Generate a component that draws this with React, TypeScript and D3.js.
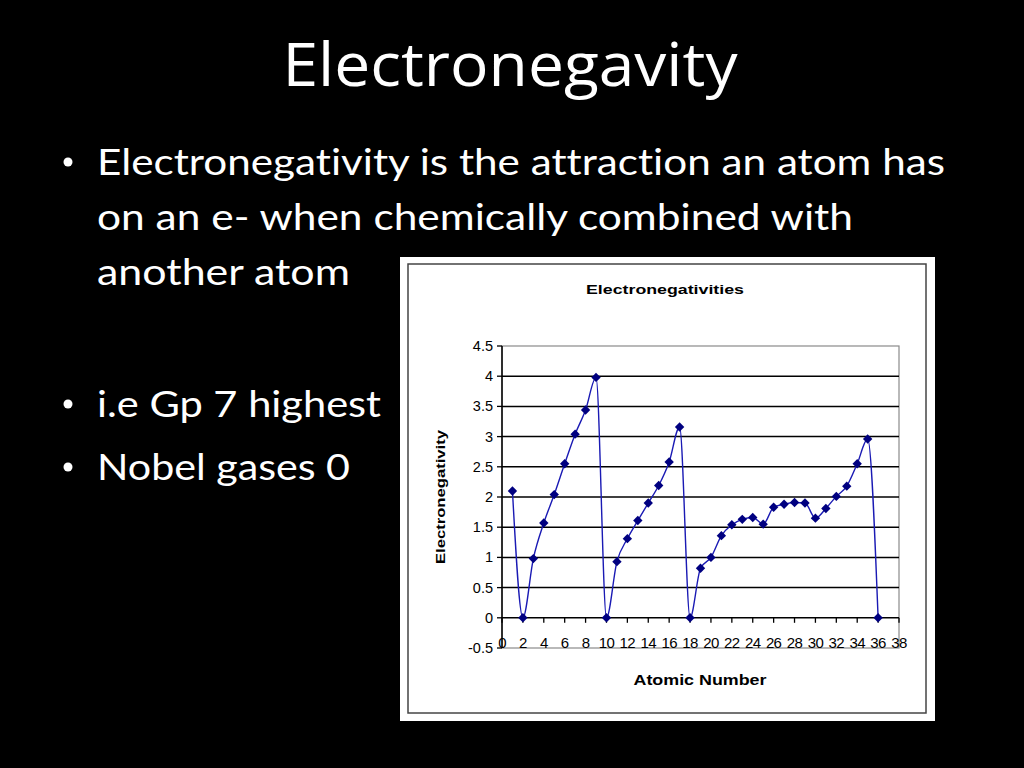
import { useEffect } from 'react';
import * as d3 from 'd3';

const atomicNumbers = [1, 2, 3, 4, 5, 6, 7, 8, 9, 10, 11, 12, 13, 14, 15, 16, 17, 18, 19, 20, 21, 22, 23, 24, 25, 26, 27, 28, 29, 30, 31, 32, 33, 34, 35, 36];
const electroneg = [2.1, 0, 0.98, 1.57, 2.04, 2.55, 3.04, 3.44, 3.98, 0, 0.93, 1.31, 1.61, 1.9, 2.19, 2.58, 3.16, 0, 0.82, 1.0, 1.36, 1.54, 1.63, 1.66, 1.55, 1.83, 1.88, 1.91, 1.9, 1.65, 1.81, 2.01, 2.18, 2.55, 2.96, 0];
const xTicks = [0, 2, 4, 6, 8, 10, 12, 14, 16, 18, 20, 22, 24, 26, 28, 30, 32, 34, 36, 38];
const yTicks = [-0.5, 0, 0.5, 1, 1.5, 2, 2.5, 3, 3.5, 4, 4.5];

const bullets = [
  { text: 'Electronegativity is the attraction an atom has', y: 175, w: 848, dot: true },
  { text: 'on an e- when chemically combined with', y: 230, w: 756, dot: false },
  { text: 'another atom', y: 285, w: 253, dot: false },
  { text: 'i.e Gp 7 highest', y: 417, w: 284, dot: true },
  { text: 'Nobel gases 0', y: 480, w: 253, dot: true },
];

const CHART_FONT = '"Liberation Sans", Arial, sans-serif';
const NAVY = '#000080';

export default function App() {
  useEffect(() => {
    document.body.style.margin = '0';
    document.body.style.background = '#000';
  }, []);

  const x = d3.scaleLinear().domain([0, 38]).range([502, 899]);
  const y = d3.scaleLinear().domain([-0.5, 4.5]).range([648, 346]);

  const pts = atomicNumbers.map((n, i) => [n, electroneg[i]] as [number, number]);
  const line = d3.line<[number, number]>()
    .x(d => x(d[0]))
    .y(d => y(d[1]))
    .curve(d3.curveMonotoneX);

  // square turned 45deg, like Excel's diamond marker
  const diamond = d3.symbol().type(d3.symbolSquare).size(44)();

  return (
    <svg width={1024} height={768} style={{ display: 'block', background: '#000' }}>
      {/* slide title */}
      <text x={510} y={86} textAnchor="middle" fill="#fff" fontFamily='"Open Sans", sans-serif'
        fontSize={60} textLength={455} lengthAdjust="spacingAndGlyphs">Electronegavity</text>

      {bullets.map(b => (
        <g key={b.text}>
          {b.dot && <circle cx={68} cy={b.y - 13} r={4.5} fill="#fff" />}
          <text x={97} y={b.y} fill="#fff" fontFamily='Lato, "Open Sans", sans-serif' fontSize={36}
            style={{ fontVariantLigatures: 'none' }}
            textLength={b.w} lengthAdjust="spacingAndGlyphs">{b.text}</text>
        </g>
      ))}

      {/* chart box */}
      <rect x={400} y={257} width={535} height={464} fill="#fff" />
      <rect x={408} y={264} width={518} height={449} fill="none" stroke="#444" strokeWidth={1.5} />

      <text x={665} y={294} textAnchor="middle" fontFamily={CHART_FONT} fontWeight="bold" fontSize={13}
        textLength={158} lengthAdjust="spacingAndGlyphs">Electronegativities</text>

      {/* plot border */}
      <rect x={x(0)} y={y(4.5)} width={x(38) - x(0)} height={y(-0.5) - y(4.5)} fill="none" stroke="#8a8a8a" strokeWidth={1.2} />

      {/* gridlines */}
      {yTicks.filter(t => t >= 0 && t < 4.5).map(t => (
        <line key={t} x1={x(0)} x2={x(38)} y1={y(t)} y2={y(t)} stroke="#000" strokeWidth={1.5} />
      ))}

      {/* y axis */}
      <line x1={x(0)} x2={x(0)} y1={y(4.5)} y2={y(-0.5)} stroke="#000" strokeWidth={1.5} />
      {yTicks.map(t => (
        <g key={t}>
          <line x1={x(0) - 5} x2={x(0)} y1={y(t)} y2={y(t)} stroke="#000" strokeWidth={1.3} />
          <text x={x(0) - 9} y={y(t) + 5} textAnchor="end" fontFamily={CHART_FONT} fontSize={14.5}>{t}</text>
        </g>
      ))}

      {/* x axis at zero */}
      {xTicks.map(t => (
        <g key={t}>
          <line x1={x(t)} x2={x(t)} y1={y(0)} y2={y(0) + 5} stroke="#000" strokeWidth={1.3} />
          <text x={x(t)} y={y(-0.5) - 0.5} textAnchor="middle" fontFamily={CHART_FONT} fontSize={15}
            letterSpacing={-0.6}>{t}</text>
        </g>
      ))}

      <path d={line(pts) ?? ''} fill="none" stroke="#1a1ab4" strokeWidth={1.4} />
      {pts.map(p => (
        <path key={p[0]} d={diamond ?? ''} transform={`translate(${x(p[0])},${y(p[1])}) rotate(45)`} fill={NAVY} />
      ))}

      <text transform={`translate(445,${y(2)}) rotate(-90)`} textAnchor="middle" fontFamily={CHART_FONT}
        fontWeight="bold" fontSize={13} textLength={134} lengthAdjust="spacingAndGlyphs">Electronegativity</text>
      <text x={700} y={685} textAnchor="middle" fontFamily={CHART_FONT} fontWeight="bold" fontSize={14}
        textLength={133} lengthAdjust="spacingAndGlyphs">Atomic Number</text>
    </svg>
  );
}
